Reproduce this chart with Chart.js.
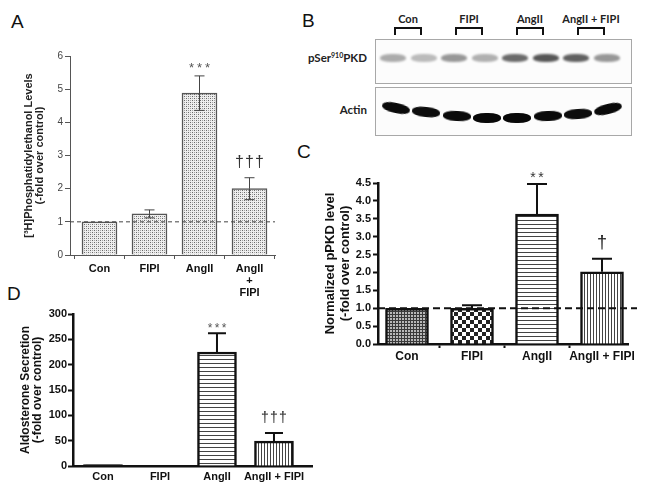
<!DOCTYPE html>
<html><head><meta charset="utf-8">
<script src="https://cdn.jsdelivr.net/npm/chart.js@4/dist/chart.umd.min.js"></script>
<style>
html,body{margin:0;padding:0;background:#fff;overflow:hidden}
#wrap{position:relative;width:648px;height:502px;background:#fff;overflow:hidden}
canvas{position:absolute}
.pl{position:absolute;font:19px 'Liberation Sans',Arial,sans-serif;line-height:1;color:#111}
.blot{position:absolute;border:1px solid #a8a8a8;box-sizing:border-box;background:#fcfcfc}
.band{position:absolute;border-radius:45%}
.wl{position:absolute;font:bold 11px Lato,'Open Sans',sans-serif;color:#222;white-space:nowrap;line-height:1}
.br{position:absolute;border:2.5px solid #111;border-bottom:none;box-sizing:border-box;height:8px}
</style></head><body><div id="wrap">
<div class="pl" style="left:11px;top:12px">A</div>
<div class="pl" style="left:302px;top:11px">B</div>
<div class="pl" style="left:297px;top:142px">C</div>
<div class="pl" style="left:7px;top:284px">D</div>
<canvas id="cA" width="290" height="310" style="left:0;top:0"></canvas>
<canvas id="cC" width="358" height="230" style="left:290px;top:140px"></canvas>
<canvas id="cD" width="330" height="207" style="left:0;top:295px"></canvas>
<div id="blotArea"></div>
</div>
<script>
const FONT = "'Liberation Sans', Arial, Helvetica, sans-serif";
const categories = ['Con', 'FIPI', 'AngII', 'AngII + FIPI'];
const categoriesA = ['Con', 'FIPI', 'AngII', ['AngII', '+', 'FIPI']];

// Panel A: [3H]Phosphatidylethanol
const peValues = [1.0, 1.24, 4.88, 2.0];
const peErrors = [0, 0.12, 0.52, 0.33];
const peMarks = ['', '', '***', '†††'];

// Panel C: normalized pPKD
const pkdValues = [1.0, 1.0, 3.63, 2.02];
const pkdErrors = [0, 0.08, 0.84, 0.36];
const pkdMarks = ['', '', '**', '†'];

// Panel D: aldosterone secretion
const aldoValues = [3, 0, 225, 49];
const aldoErrors = [0, 0, 37, 16];
const aldoMarks = ['', '', '***', '†††'];

// Panel B: western blot lanes (relative band intensities)
const blotGroups = ['Con', 'FIPI', 'AngII', 'AngII + FIPI'];
const pSerIntensity = [0.32, 0.26, 0.40, 0.30, 0.58, 0.66, 0.62, 0.40];
const actinIntensity = [0.96, 0.95, 0.96, 0.97, 0.97, 0.96, 0.95, 0.96];

// ---------- western blot (decorative image) ----------
(function(){
  const area = document.getElementById('blotArea');
  const add = (cls, css, html) => { const d = document.createElement('div'); d.className = cls; d.style.cssText = css; if (html) d.innerHTML = html; area.appendChild(d); return d; };
  add('blot', 'left:375px;top:39px;width:257px;height:45px');
  add('blot', 'left:375px;top:87px;width:257px;height:49px');
  add('wl', 'right:281px;top:52px;text-align:right;font-size:11.5px', 'pSer<sup style="font-size:7px;vertical-align:4px">910</sup>PKD');
  add('wl', 'right:281px;top:104px;text-align:right;font-size:11.5px', 'Actin');
  const tilt = [12, 6, 3, 0, 0, -2, -4, -14];
  const yOff = [-8, -4, 0, 2, 2, 0, -2, -7];
  pSerIntensity.forEach((a, i) => {
    const cx = 393 + 30.5 * i;
    add('band', `left:${cx-13}px;top:54px;width:26px;height:8px;background:rgba(0,0,0,${a});filter:blur(1.3px)`);
    const ax = 396 + 30.3 * i;
    add('band', `left:${ax-14}px;top:${111+yOff[i]}px;width:28px;height:10px;background:rgba(0,0,0,${actinIntensity[i]});transform:rotate(${tilt[i]}deg);filter:blur(0.6px)`);
  });
  blotGroups.forEach((g, k) => {
    const cx = 408 + 61 * k;
    add('br', `left:${cx-14}px;top:27px;width:28px`);
    add('wl', `left:${cx-50}px;width:100px;text-align:center;top:13px`, g);
  });
})();

// ---------- patterns ----------
function makePattern(w, h, fn){ const c = document.createElement('canvas'); c.width = w; c.height = h; const g = c.getContext('2d'); fn(g, w, h); return g.createPattern(c, 'repeat'); }
const stipple = makePattern(4, 4, g => { g.fillStyle = '#eeeeee'; g.fillRect(0,0,4,4); g.fillStyle = '#6a6a6a'; g.fillRect(0,0,1,1); g.fillRect(2,2,1,1); g.fillStyle = '#a5a5a5'; g.fillRect(2,0,1,1); g.fillRect(0,2,1,1); });
const fineHatch = makePattern(3, 3, g => { g.fillStyle = '#b8b8b8'; g.fillRect(0,0,3,3); g.fillStyle = '#3a3a3a'; g.fillRect(0,0,3,1); g.fillRect(0,0,1,3); });
const checker = makePattern(8, 8, g => { g.fillStyle = '#fff'; g.fillRect(0,0,8,8); g.fillStyle = '#222'; g.fillRect(0,0,4,4); g.fillRect(4,4,4,4); });
const hLines = makePattern(4, 4, g => { g.fillStyle = '#fff'; g.fillRect(0,0,4,4); g.fillStyle = '#444'; g.fillRect(0,0,4,1); });
const vLines = makePattern(3, 3, g => { g.fillStyle = '#fff'; g.fillRect(0,0,3,3); g.fillStyle = '#444'; g.fillRect(0,0,1,3); });

// ---------- error bars, reference line and significance marks ----------
const annotPlugin = {
  id: 'annot',
  afterDatasetsDraw(chart, args, o){
    const ctx = chart.ctx, ys = chart.scales.y, area = chart.chartArea;
    ctx.save();
    if (o.ref !== undefined && o.ref !== null){
      const y = ys.getPixelForValue(o.ref);
      ctx.beginPath(); ctx.setLineDash(o.refDash); ctx.lineWidth = o.refWidth; ctx.strokeStyle = o.refColor;
      ctx.moveTo(area.left, y); ctx.lineTo(area.right + (o.refExtend || 0), y); ctx.stroke(); ctx.setLineDash([]);
    }
    const meta = chart.getDatasetMeta(0);
    meta.data.forEach((bar, i) => {
      const v = o.values[i], e = o.errors[i], x = bar.x;
      const yTop = ys.getPixelForValue(v + e);
      if (e > 0){
        const yv = ys.getPixelForValue(v);
        ctx.beginPath(); ctx.lineWidth = o.errWidth; ctx.strokeStyle = o.errColor;
        ctx.moveTo(x, yv); ctx.lineTo(x, yTop); ctx.moveTo(x - o.cap, yTop); ctx.lineTo(x + o.cap, yTop);
        if (o.both){ const yb = ys.getPixelForValue(v - e); ctx.moveTo(x, yv); ctx.lineTo(x, yb); ctx.moveTo(x - o.cap, yb); ctx.lineTo(x + o.cap, yb); }
        ctx.stroke();
      }
      const m = o.marks[i];
      if (m){
        const s = m.includes('*') ? o.star : o.dagger;
        ctx.font = s.font; ctx.fillStyle = s.color; ctx.textBaseline = 'alphabetic'; ctx.textAlign = 'center';
        const chars = [...m], n = chars.length;
        chars.forEach((ch, k) => ctx.fillText(ch, x + (k - (n - 1) / 2) * s.step, yTop - s.gap));
      }
    });
    ctx.restore();
  }
};

function baseOptions(){
  return { responsive: false, animation: false, devicePixelRatio: 1, events: [],
    plugins: { legend: { display: false }, tooltip: { enabled: false } } };
}

// ---------- Panel A ----------
(function(){
  const o = baseOptions();
  o.layout = { padding: { left: 0, top: 56, right: 15, bottom: 0 } };
  o.scales = {
    x: { type: 'linear', min: -0.59, max: 3.51, offset: false,
      afterBuildTicks: a => { a.ticks = categoriesA.map((c, i) => ({ value: i })); },
      afterFit: a => { a.height = 55; },
      ticks: { callback: v => categoriesA[v], font: { family: FONT, size: 11, weight: 'bold', lineHeight: 1.1 }, color: '#111', padding: 4, maxRotation: 0, autoSkip: false },
      grid: { drawOnChartArea: false, drawTicks: true, tickLength: 4, color: '#555', tickWidth: 1 },
      border: { display: true, color: '#555', width: 1 } },
    y: { min: 0, max: 6,
      afterFit: a => { a.width = 70; },
      ticks: { stepSize: 1, font: { family: FONT, size: 10 }, color: '#444', padding: 2 },
      grid: { drawOnChartArea: false, drawTicks: true, tickLength: 5, color: '#555', tickWidth: 1 },
      border: { display: true, color: '#555', width: 1 },
      title: { display: true, text: ['[³H]Phosphatidylethanol Levels', '(-fold over control)'], color: '#222',
        font: { family: FONT, size: 11, weight: 'bold', lineHeight: 1.0 }, padding: { top: 23.5, bottom: 0 } } }
  };
  o.plugins.annot = { values: peValues, errors: peErrors, marks: peMarks, ref: 1, refDash: [4, 3], refWidth: 1, refColor: '#444', refExtend: 0,
    errWidth: 1, errColor: '#444', cap: 5, both: true,
    star: { font: `13px ${FONT}`, color: '#555', step: 8, gap: 4 },
    dagger: { font: `16px ${FONT}`, color: '#333', step: 10, gap: 11 } };
  new Chart(document.getElementById('cA'), {
    type: 'bar',
    data: { datasets: [{ data: peValues.map((v, i) => ({ x: i, y: v })), backgroundColor: stipple, borderColor: '#555', borderWidth: 1.5, barThickness: 35 }] },
    options: o, plugins: [annotPlugin]
  });
})();

// ---------- Panel C ----------
(function(){
  const o = baseOptions();
  o.layout = { padding: { left: 0, top: 43, right: 20, bottom: 0 } };
  o.scales = {
    x: { type: 'linear', min: -0.446, max: 3.4, offset: false,
      afterBuildTicks: a => { a.ticks = categories.map((c, i) => ({ value: i })); },
      afterFit: a => { a.height = 26; },
      ticks: { callback: v => categories[v], font: { family: FONT, size: 12, weight: 'bold', lineHeight: 1.2 }, color: '#111', padding: 1, maxRotation: 0, autoSkip: false },
      grid: { drawOnChartArea: false, drawTicks: true, tickLength: 4, color: '#111', tickWidth: 2 },
      border: { display: true, color: '#111', width: 2.5 } },
    y: { min: 0, max: 4.5,
      afterFit: a => { a.width = 88; },
      ticks: { stepSize: 0.5, callback: v => v.toFixed(1), font: { family: FONT, size: 11, weight: 'bold' }, color: '#111', padding: 2 },
      grid: { drawOnChartArea: false, drawTicks: true, tickLength: 5, color: '#111', tickWidth: 2 },
      border: { display: true, color: '#111', width: 2.5 },
      title: { display: true, text: ['Normalized pPKD level', '(-fold over control)'], color: '#111',
        font: { family: FONT, size: 13, weight: 'bold', lineHeight: 1.15 }, padding: { top: 32.5, bottom: 0 } } }
  };
  o.plugins.annot = { values: pkdValues, errors: pkdErrors, marks: pkdMarks, ref: 1, refDash: [7, 4], refWidth: 2, refColor: '#111', refExtend: 9,
    errWidth: 2, errColor: '#111', cap: 10, both: false,
    star: { font: `14px ${FONT}`, color: '#333', step: 8, gap: 2 },
    dagger: { font: `18px ${FONT}`, color: '#111', step: 10, gap: 11 } };
  new Chart(document.getElementById('cC'), {
    type: 'bar',
    data: { datasets: [{ data: pkdValues.map((v, i) => ({ x: i, y: v })), backgroundColor: [fineHatch, checker, hLines, vLines], borderColor: '#111', borderWidth: 2.5, barThickness: 43 }] },
    options: o, plugins: [annotPlugin]
  });
})();

// ---------- Panel D ----------
(function(){
  const o = baseOptions();
  o.layout = { padding: { left: 0, top: 19, right: 18, bottom: 0 } };
  o.scales = {
    x: { type: 'linear', min: -0.526, max: 3.667, offset: false,
      afterBuildTicks: a => { a.ticks = categories.map((c, i) => ({ value: i })); },
      afterFit: a => { a.height = 36; },
      ticks: { callback: v => categories[v], font: { family: FONT, size: 11, weight: 'bold', lineHeight: 1.2 }, color: '#111', padding: 4, maxRotation: 0, autoSkip: false },
      grid: { drawOnChartArea: false, drawTicks: false },
      border: { display: true, color: '#111', width: 2.5 } },
    y: { min: 0, max: 300,
      afterFit: a => { a.width = 73; },
      ticks: { stepSize: 50, font: { family: FONT, size: 11, weight: 'bold' }, color: '#111', padding: 1 },
      grid: { drawOnChartArea: false, drawTicks: true, tickLength: 5, color: '#111', tickWidth: 2 },
      border: { display: true, color: '#111', width: 2.5 },
      title: { display: true, text: ['Aldosterone Secretion', '(-fold over control)'], color: '#111',
        font: { family: FONT, size: 12, weight: 'bold', lineHeight: 1.0 }, padding: { top: 20, bottom: 0 } } }
  };
  o.plugins.annot = { values: aldoValues, errors: aldoErrors, marks: aldoMarks,
    errWidth: 2, errColor: '#111', cap: 9, both: false,
    star: { font: `12px ${FONT}`, color: '#555', step: 7, gap: 1 },
    dagger: { font: `14px ${FONT}`, color: '#222', step: 9, gap: 11 } };
  new Chart(document.getElementById('cD'), {
    type: 'bar',
    data: { datasets: [{ data: aldoValues.map((v, i) => ({ x: i, y: v })), backgroundColor: ['#222', '#222', hLines, vLines], borderColor: '#111', borderWidth: 2.5, barThickness: 39 }] },
    options: o, plugins: [annotPlugin]
  });
})();
</script>
</body></html>
